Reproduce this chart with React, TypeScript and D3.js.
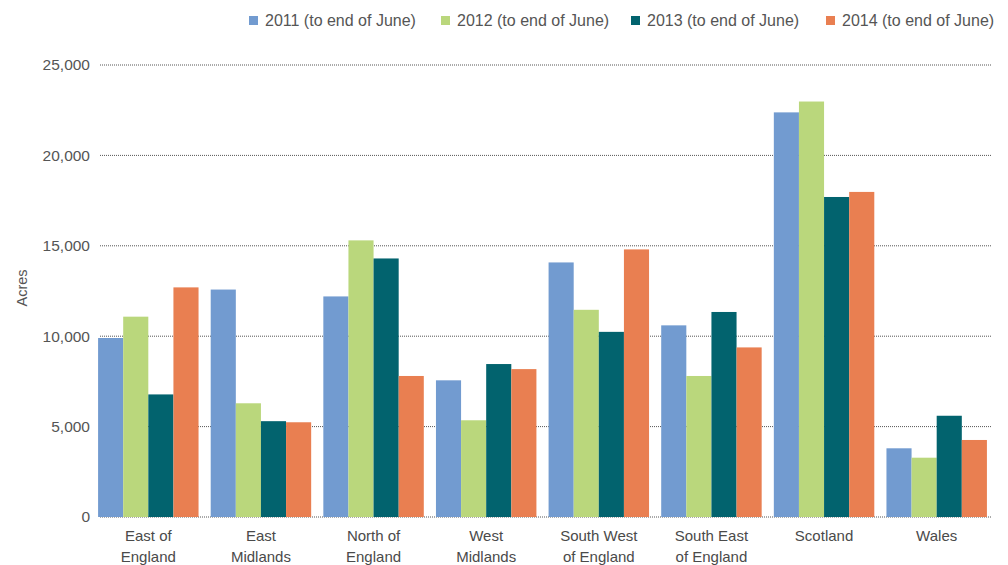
import React from "react";
import * as d3 from "d3";

const categories = [
  ["East of", "England"],
  ["East", "Midlands"],
  ["North of", "England"],
  ["West", "Midlands"],
  ["South West", "of England"],
  ["South East", "of England"],
  ["Scotland"],
  ["Wales"],
];
const seriesNames = [
  "2011 (to end of June)",
  "2012 (to end of June)",
  "2013 (to end of June)",
  "2014 (to end of June)",
];
const colors = ["#729BD0", "#BAD77C", "#02636E", "#E97F51"];
const v2011 = [9900, 12580, 12200, 7560, 14080, 10600, 22380, 3800];
const v2012 = [11080, 6290, 15300, 5350, 11460, 7800, 22980, 3280];
const v2013 = [6780, 5300, 14300, 8460, 10240, 11340, 17700, 5600];
const v2014 = [12700, 5240, 7800, 8180, 14800, 9380, 17980, 4260];
const yTicks = [0, 5000, 10000, 15000, 20000, 25000];

const W = 1008;
const H = 565;
const FONT = "'Liberation Sans', Arial, Helvetica, sans-serif";

export default function App() {
  const series = [v2011, v2012, v2013, v2014];
  const x = d3
    .scaleBand<number>()
    .domain(d3.range(categories.length))
    .range([92, 993])
    .paddingInner(0.108)
    .paddingOuter(0.054);
  const x1 = d3
    .scaleBand<number>()
    .domain(d3.range(series.length))
    .range([0, x.bandwidth()]);
  const y = d3.scaleLinear().domain([0, 25000]).range([517, 65]);
  const fmt = d3.format(",");

  const legendX = [249, 441, 631, 826];

  return (
    <svg
      width={W}
      height={H}
      style={{ position: "absolute", left: 0, top: 0, background: "#fff" }}
      fontFamily={FONT}
    >
      {yTicks.map((t) => (
        <g key={t}>
          <line
            x1={100}
            x2={992}
            y1={y(t)}
            y2={y(t)}
            stroke="#555"
            strokeWidth={1}
            strokeDasharray="1,1"
          />
          <text
            x={90}
            y={y(t)}
            dy="0.35em"
            textAnchor="end"
            fontSize={15.5}
            fill="#555"
          >
            {t === 0 ? "0" : fmt(t)}
          </text>
        </g>
      ))}
      <text
        transform={`translate(27,288) rotate(-90)`}
        textAnchor="middle"
        fontSize={14.5}
        fill="#555"
      >
        Acres
      </text>
      {categories.map((c, i) => (
        <g key={i} transform={`translate(${x(i)},0)`}>
          {series.map((s, j) => (
            <rect
              key={j}
              x={x1(j)}
              y={y(s[i])}
              width={x1.bandwidth()}
              height={y(0) - y(s[i])}
              fill={colors[j]}
            />
          ))}
          {c.map((line, k) => (
            <text
              key={k}
              x={x.bandwidth() / 2}
              y={540.5 + k * 21}
              textAnchor="middle"
              fontSize={15}
              fill="#4a4a4a"
            >
              {line}
            </text>
          ))}
        </g>
      ))}
      {seriesNames.map((n, j) => (
        <g key={n}>
          <rect x={legendX[j]} y={16} width={9} height={9} fill={colors[j]} />
          <text x={legendX[j] + 16} y={20.5} dy="0.35em" fontSize={16} fill="#555">
            {n}
          </text>
        </g>
      ))}
    </svg>
  );
}
